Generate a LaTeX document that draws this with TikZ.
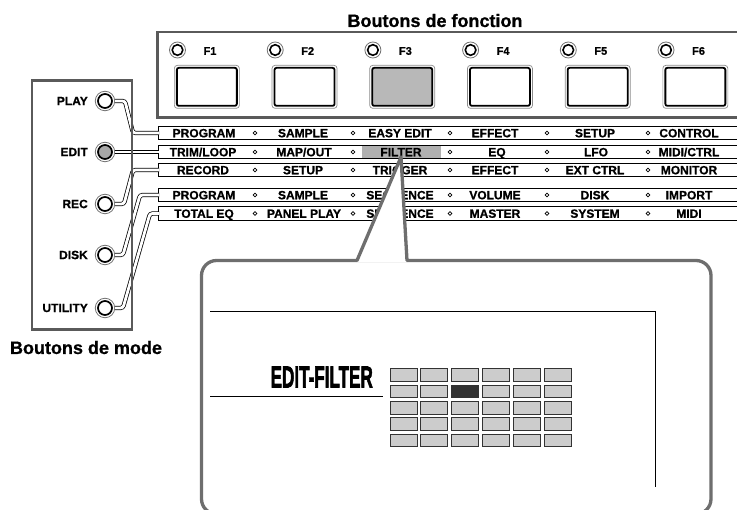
\documentclass[tikz,border=0pt]{standalone}
\usepackage{fontspec}
\setmainfont{Liberation Sans}[BoldFeatures={FakeBold=0.8}]
\newfontfamily\heavyfont{Liberation Sans}[UprightFeatures={FakeBold=2.5}, BoldFeatures={FakeBold=2.5}]
\definecolor{panelgray}{HTML}{5A5A5A}
\definecolor{callgray}{HTML}{6E6E6E}
\definecolor{ledgray}{HTML}{A8A8A8}
\definecolor{keygray}{HTML}{B8B8B8}
\definecolor{hlgray}{HTML}{B0B0B0}
\definecolor{cellgray}{HTML}{CCCCCC}
\definecolor{celldark}{HTML}{333333}
\tikzset{
  panel/.style={draw=panelgray, line width=2.8pt},
  callout/.style={draw=callgray, line width=3.3pt},
  lcd/.style={draw=black, line width=0.9pt},
  fledout/.style={circle, draw=black!55, line width=0.8pt, fill=white, inner sep=0pt, minimum size=16pt},
  fledin/.style={circle, draw=black, line width=1.6pt, fill=white, inner sep=0pt, minimum size=10.6pt},
  mledout/.style={circle, draw=black!55, line width=0.8pt, fill=white, inner sep=0pt, minimum size=19.5pt},
  mledin/.style={circle, draw=black, line width=1.7pt, fill=white, inner sep=0pt, minimum size=14pt},
  keyout/.style={rectangle, rounded corners=3pt, draw=black!45, line width=0.7pt, fill=white, inner sep=0pt, minimum width=65pt, minimum height=43pt},
  keyin/.style={rectangle, rounded corners=2pt, draw=black, line width=1.8pt, fill=white, inner sep=0pt, minimum width=60pt, minimum height=38pt},
  flabel/.style={font=\bfseries\fontsize{11}{11}\selectfont, inner sep=0pt},
  mlabel/.style={font=\bfseries\fontsize{12}{12}\selectfont, inner sep=0pt, anchor=east},
  bigtitle/.style={font=\bfseries\fontsize{18}{18}\selectfont, inner sep=0pt, anchor=base},
  rowbox/.style={rectangle, draw=black, line width=0.9pt, fill=white, inner sep=0pt, minimum width=600pt, minimum height=13.5pt, anchor=west},
  cell/.style={font=\bfseries\fontsize{12}{12}\selectfont, inner sep=0pt, anchor=base},
  dot/.style={circle, draw=black, line width=0.6pt, fill=white, inner sep=0pt, minimum size=3.8pt},
  tube/.style={draw=black, line width=0.75pt, double=white, double distance=2.8pt, rounded corners=2.5pt},
  gridcell/.style={rectangle, draw=black!80, line width=0.9pt, fill=cellgray, inner sep=0pt, minimum width=27pt, minimum height=12.7pt},
}
\begin{document}
\begin{tikzpicture}[x=1pt,y=-1pt]
\useasboundingbox (0,0) rectangle (737,510);
\clip (0,0) rectangle (737,510);

% ---- function buttons ----
\node[bigtitle] (ftitle) at (435,27) {Boutons de fonction};
\draw[panel] (157.5,32) rectangle (760,117.3);
\foreach \i in {1,...,6}{
  \pgfmathsetmacro{\kx}{174+97.7*(\i-1)}
  \node[fledout] (fl\i) at (\kx+3.5,50) {};
  \node[fledin] (fli\i) at (fl\i) {};
  \node[keyout, anchor=north west] (k\i) at (\kx,65) {};
  \node[flabel] (fn\i) at (\kx+36,51) {F\i};
}
\foreach \i in {1,2,4,5,6}{ \node[keyin] (ki\i) at (k\i) {}; }
\node[keyin, fill=keygray] (ki3) at (k3) {};

% ---- rows of the table ----
\node[rowbox] (row1) at (158,133) {};
\node[rowbox] (row2) at (158,152) {};
\node[rowbox] (row3) at (158,170) {};
\node[rowbox] (row4) at (158,195) {};
\node[rowbox] (row5) at (158,213.5) {};
\node[fill=hlgray, inner sep=0pt, minimum width=79pt, minimum height=12.6pt] (hl) at (401.5,152) {};

\foreach \r/\y in {1/133,2/152,3/170,4/195,5/213.5}
  \foreach \x [count=\k] in {255,353,450,547,648}
    \node[dot] (d\r-\k) at (\x,\y) {};

\node[cell] (a1) at (204,137.3) {PROGRAM};
\node[cell] (a2) at (303,137.3) {SAMPLE};
\node[cell] (a3) at (400,137.3) {EASY EDIT};
\node[cell] (a4) at (495,137.3) {EFFECT};
\node[cell] (a5) at (595,137.3) {SETUP};
\node[cell] (a6) at (689,137.3) {CONTROL};

\node[cell] (b1) at (203,156.3) {TRIM/LOOP};
\node[cell] (b2) at (304,156.3) {MAP/OUT};
\node[cell] (b3) at (401,156.3) {FILTER};
\node[cell] (b4) at (497,156.3) {EQ};
\node[cell] (b5) at (596,156.3) {LFO};
\node[cell] (b6) at (689,156.3) {MIDI/CTRL};

\node[cell] (c1) at (203,174.3) {RECORD};
\node[cell] (c2) at (303,174.3) {SETUP};
\node[cell] (c3) at (400,174.3) {TRIGGER};
\node[cell] (c4) at (495,174.3) {EFFECT};
\node[cell] (c5) at (595,174.3) {EXT CTRL};
\node[cell] (c6) at (689,174.3) {MONITOR};

\node[cell] (e1) at (204,199.3) {PROGRAM};
\node[cell] (e2) at (303,199.3) {SAMPLE};
\node[cell] (e3) at (400,199.3) {SEQUENCE};
\node[cell] (e4) at (495,199.3) {VOLUME};
\node[cell] (e5) at (595,199.3) {DISK};
\node[cell] (e6) at (689,199.3) {IMPORT};

\node[cell] (f1) at (204,217.8) {TOTAL EQ};
\node[cell] (f2) at (304,217.8) {PANEL PLAY};
\node[cell] (f3) at (400,217.8) {SEQUENCE};
\node[cell] (f4) at (495,217.8) {MASTER};
\node[cell] (f5) at (595,217.8) {SYSTEM};
\node[cell] (f6) at (689,217.8) {MIDI};

% ---- mode buttons ----
\coordinate (pbend) at (125,101);
\coordinate (pjoin) at (133,133);
\coordinate (rbend) at (124,204);
\coordinate (rjoin) at (133,170);
\coordinate (dbend) at (123,255);
\coordinate (djoin) at (140,195);
\coordinate (ubend) at (123,308);
\coordinate (ujoin) at (150,213.5);

\node[mledout] (mplay) at (105,101) {};
\node[mledout] (medit) at (105,152) {};
\node[mledout] (mrec) at (105,204) {};
\node[mledout] (mdisk) at (105,255) {};
\node[mledout] (mutil) at (105,308) {};

\draw[tube] (mplay.east) -- (pbend) -- (pjoin) -- ([xshift=1pt]row1.west);
\draw[tube] (medit.east) -- ([xshift=1pt]row2.west);
\draw[tube] (mrec.east) -- (rbend) -- (rjoin) -- ([xshift=1pt]row3.west);
\draw[tube] (mdisk.east) -- (dbend) -- (djoin) -- ([xshift=1pt]row4.west);
\draw[tube] (mutil.east) -- (ubend) -- (ujoin) -- ([xshift=1pt]row5.west);

\node[mledin] (mplayi) at (mplay) {};
\node[mledin, fill=ledgray] (mediti) at (medit) {};
\node[mledin] (mreci) at (mrec) {};
\node[mledin] (mdiski) at (mdisk) {};
\node[mledin] (mutili) at (mutil) {};

\node[mlabel] (lplay) at (88,101) {PLAY};
\node[mlabel] (ledit) at (88,152) {EDIT};
\node[mlabel] (lrec) at (88,204) {REC};
\node[mlabel] (ldisk) at (88,255) {DISK};
\node[mlabel] (lutil) at (88,308) {UTILITY};

\draw[panel] (32,80.5) rectangle (132,329.3);
\node[bigtitle] (mtitle) at (86,354) {Boutons de mode};

% ---- callout ----
\draw[callout, fill=white, rounded corners=15pt] (201.5,260.5) rectangle (711,514);
\fill[white] (357,262.5) -- (401,157) -- (407,262.5) -- cycle;
\draw[callout, line join=round, line cap=round] (357,260.5) -- (401,157) -- (407,260.5);

\draw[lcd] (210,311) -- (655,311) -- (655,487);
\draw[lcd] (210,396) -- (383,396);
\node[anchor=base east, inner sep=0pt] (lcdtitle) at (373,387.5)
  {\scalebox{0.56}[1]{\fontsize{30.5}{30.5}\selectfont\heavyfont\bfseries EDIT-FILTER}};

\foreach \r in {0,...,4}
  \foreach \c in {0,...,5}
    \node[gridcell] (g\r\c) at (403.5+30.8*\c, 375.3+16.3*\r) {};
\node[gridcell, fill=celldark] (gsel) at (g12) {};
\end{tikzpicture}
\end{document}
